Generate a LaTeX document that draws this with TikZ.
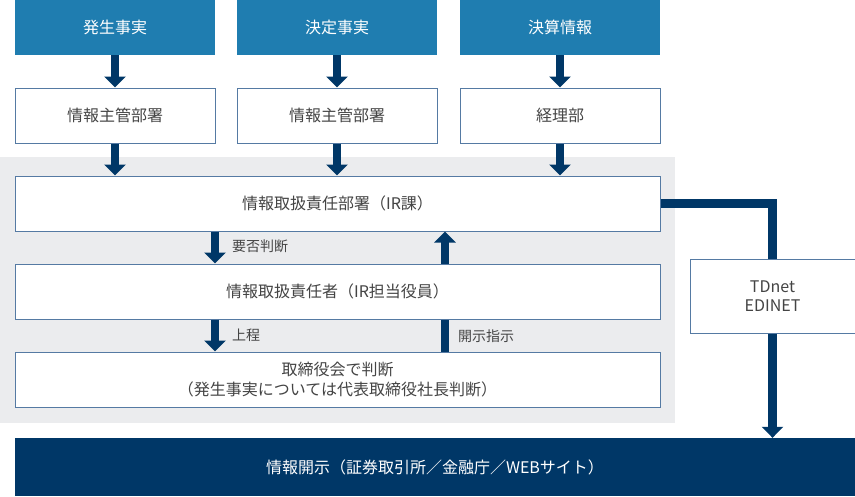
\documentclass[tikz,border=0pt]{standalone}
\usepackage{fontspec}
\setmainfont{Noto Sans CJK JP}
\usetikzlibrary{arrows.meta}
\definecolor{topblue}{HTML}{1F7DB0}
\definecolor{navy}{HTML}{003767}
\definecolor{bordr}{HTML}{557AA3}
\definecolor{bggray}{HTML}{EBECEE}
\definecolor{txt}{HTML}{444444}
\tikzset{
  topbox/.style={fill=topblue, text=white, minimum width=200pt, minimum height=55pt, inner sep=0pt, font=\fontsize{16}{19.5}\selectfont},
  wbox/.style={draw=bordr, line width=1pt, fill=white, text=txt, inner sep=0pt, align=center, font=\fontsize{16}{19.5}\selectfont},
  darr/.style={draw=navy, line width=8.5pt, -{Triangle[width=21pt,length=11pt]}},
  dline/.style={draw=navy, line width=8.5pt},
  lbl/.style={text=txt, font=\fontsize{14}{16}\selectfont, inner sep=0pt, anchor=west}
}
\begin{document}
\begin{tikzpicture}[x=1pt,y=-1pt]
\useasboundingbox (0,0) rectangle (855,496);
% gray background
\fill[bggray] (0,157) rectangle (675,423);
% top boxes
\node[topbox] (t1) at (115,27.5) {発生事実};
\node[topbox] (t2) at (337,27.5) {決定事実};
\node[topbox] (t3) at (560,27.5) {決算情報};
% second row
\node[wbox, minimum width=200pt, minimum height=55pt] (s1) at (115,115.5) {情報主管部署};
\node[wbox, minimum width=200pt, minimum height=55pt] (s2) at (337,115.5) {情報主管部署};
\node[wbox, minimum width=200pt, minimum height=55pt] (s3) at (560,115.5) {経理部};
% main boxes
\node[wbox, minimum width=645pt, minimum height=55pt] (m1) at (337.5,203.5) {情報取扱責任部署（IR課）};
\node[wbox, minimum width=645pt, minimum height=55pt] (m2) at (337.5,291.5) {情報取扱責任者（IR担当役員）};
\node[wbox, minimum width=645pt, minimum height=55pt] (m3) at (337.5,379.5) {取締役会で判断\\（発生事実については代表取締役社長判断）};
% TDnet
\node[wbox, minimum width=165pt, minimum height=74pt] (td) at (772.5,296) {TDnet\\EDINET};
% bottom bar
\node[fill=navy, text=white, minimum width=840pt, minimum height=58pt, inner sep=0pt, font=\fontsize{16}{19.5}\selectfont] (bb) at (435,467) {情報開示（証券取引所／金融庁／WEBサイト）};
% arrows top
\draw[darr] (t1.south) -- (s1.north);
\draw[darr] (t2.south) -- (s2.north);
\draw[darr] (t3.south) -- (s3.north);
\draw[darr] (s1.south) -- (s1.south |- m1.north);
\draw[darr] (s2.south) -- (s2.south |- m1.north);
\draw[darr] (s3.south) -- (s3.south |- m1.north);
% inner arrows
\coordinate (a1) at (215,0);
\coordinate (a2) at (445,0);
\draw[darr] (a1 |- m1.south) -- (a1 |- m2.north);
\draw[darr] (a2 |- m2.north) -- (a2 |- m1.south);
\draw[darr] (a1 |- m2.south) -- (a1 |- m3.north);
\draw[dline] (a2 |- m3.north) -- (a2 |- m2.south);
\node[lbl] (l1) at (232,246) {要否判断};
\node[lbl] (l2) at (232,335) {上程};
\node[lbl] (l3) at (458,336) {開示指示};
% TDnet connector
\draw[dline] (m1.east) -| (td.north);
\draw[darr] (td.south) -- (td.south |- bb.north);
\end{tikzpicture}
\end{document}
